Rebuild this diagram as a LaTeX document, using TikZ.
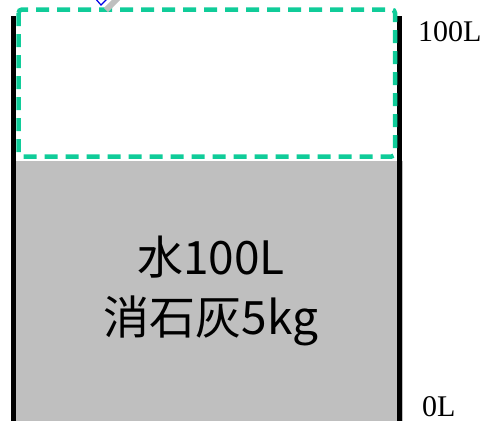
\documentclass[tikz,border=0pt]{standalone}
\usepackage{fontspec}
\setmainfont{Liberation Serif}
\newfontfamily\cjkfont{Noto Sans CJK JP}
\definecolor{tankgray}{RGB}{191,191,191}
\definecolor{dashgreen}{RGB}{16,204,153}
\definecolor{iconblue}{RGB}{0,0,230}
\begin{document}
\begin{tikzpicture}[x=1pt,y=-1pt,
  wall/.style={line width=5pt,black},
  level/.style={font=\fontsize{30}{30}\selectfont,anchor=base west,inner sep=0pt},
  content/.style={font=\cjkfont\fontsize{46}{60}\selectfont,align=center,inner sep=0pt}]
\useasboundingbox (0,0) rectangle (483,421);
\begin{scope}
\clip (0,0) rectangle (483,421);
% liquid
\fill[tankgray] (16,161) rectangle (403,421);
% walls
\draw[wall] (13,16) -- (13,421);
\draw[wall] (399.5,16) -- (399.5,421);
% empty space marker
\draw[dashgreen,line width=4.5pt,dash pattern=on 13pt off 8pt,rounded corners=3.5pt]
  (18.5,9.5) rectangle (395,156.5);
% small icon fragment at top
\draw[tankgray,line width=6pt] (106,10) -- (122,-6);
\draw[iconblue,line width=1.2pt] (94,-3) -- (101,5) -- (108,-2);
\end{scope}
\node[level] (top) at (418,41) {100L};
\node[level] (bot) at (422,416) {0L};
\node[content] (txt) at (211,291) {水100L\\消石灰5kg};
\end{tikzpicture}
\end{document}
